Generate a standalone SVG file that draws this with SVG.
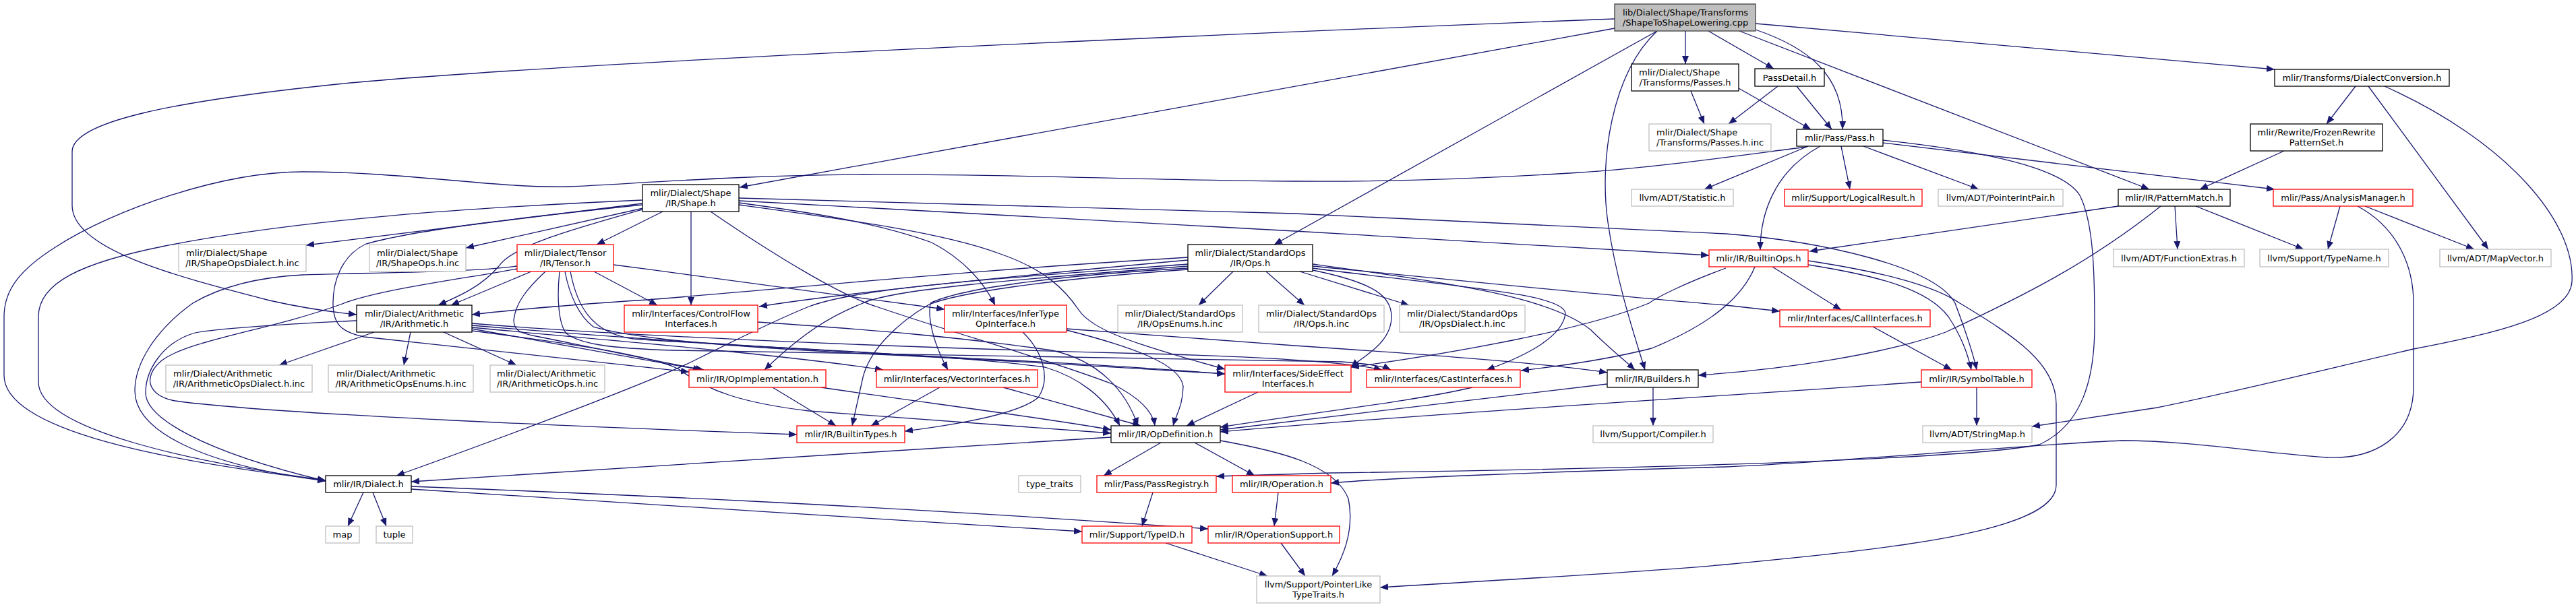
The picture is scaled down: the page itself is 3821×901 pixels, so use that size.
<svg xmlns="http://www.w3.org/2000/svg" width="3821" height="901" viewBox="0 0 3821 901">
<defs>
<style>
.e{fill:none;stroke:#191970;stroke-width:1.3;marker-end:url(#a)}
rect{fill:#ffffff;stroke-width:1.3}
.k rect{stroke:#000000}
.g rect{stroke:#bfbfbf}
.r rect{stroke:#ff0000}
text{font-family:"DejaVu Sans","Liberation Sans",sans-serif;font-size:13px;fill:#000000}
.m{text-anchor:middle}
</style>
<marker id="a" markerWidth="12" markerHeight="10" refX="12" refY="5" orient="auto" markerUnits="userSpaceOnUse"><path d="M0,0 L12,5 L0,10 z" fill="#191970"/></marker>
</defs>
<rect x="0" y="0" width="3821" height="901" style="fill:#ffffff;stroke:none"/>
<g id="edges">
<path class="e" d="M2500,46 L2500,95"/>
<path class="e" d="M2534,46 L2631,102"/>
<path class="e" d="M2604,44 C2680,70 2735,110 2733,192"/>
<path class="e" d="M2580,46 L3188,281"/>
<path class="e" d="M2604,35 L3374,103"/>
<path class="e" d="M2395,42 L1097,278"/>
<path class="e" d="M2395,28 C1700,55 800,95 500,125 C260,150 107,180 107,225 L107,305 C107,370 260,410 400,446 C440,455 480,462 529,467"/>
<path class="e" d="M2458,46 L1890,363"/>
<path class="e" d="M2458,46 C2390,110 2372,240 2385,330 C2398,420 2425,500 2440,549"/>
<path class="e" d="M2508,135 L2528,184"/>
<path class="e" d="M2579,131 L2686,192"/>
<path class="e" d="M2637,128 L2564,184"/>
<path class="e" d="M2665,128 L2717,192"/>
<path class="e" d="M2682,217 L2528,281"/>
<path class="e" d="M2731,217 L2744,281"/>
<path class="e" d="M2764,217 L2935,281"/>
<path class="e" d="M2700,217 C2630,255 2611,320 2611,371"/>
<path class="e" d="M2793,212 L3374,281"/>
<path class="e" d="M2680,218 C2600,228 2450,250 2328,257 C2200,265 2050,270 1920,269 C1700,268 1500,258 1280,259 C1100,260 950,272 844,277 C740,280 600,255 449,255 C330,255 170,310 82,367 C30,400 6,430 6,470 L6,557 C6,640 250,685 483,713"/>
<path class="e" d="M2793,208 C2950,225 3060,250 3085,290 C3105,330 3107,400 3107,483 C3107,560 3090,630 3025,660 C2900,685 2300,698 1974,702 L1804,707"/>
<path class="e" d="M3471,306 L3453,370"/>
<path class="e" d="M3508,306 L3670,370"/>
<path class="e" d="M3497,306 C3560,340 3580,400 3580,450 L3580,574 C3580,650 3520,682 3453,679 C3350,672 3250,654 3147,654 C3000,660 2700,688 2560,693 C2300,700 2050,710 1974,717"/>
<path class="e" d="M3142,306 L2684,373"/>
<path class="e" d="M3226,306 L3230,370"/>
<path class="e" d="M3257,306 L3417,370"/>
<path class="e" d="M3205,306 C3100,390 3000,440 2886,493 C2800,525 2650,548 2519,557"/>
<path class="e" d="M3388,224 L3263,281"/>
<path class="e" d="M3494,128 L3451,184"/>
<path class="e" d="M3513,128 L3691,370"/>
<path class="e" d="M3537,128 C3720,210 3820,330 3815,418 C3812,470 3700,495 3580,518 C3430,553 3300,585 3200,605 L3014,633"/>
<path class="e" d="M2682,393 C2790,410 2860,430 2890,470 C2910,500 2920,530 2924,549"/>
<path class="e" d="M2682,387 C2800,405 2870,425 2907,450 C2990,500 3050,540 3050,600 L3050,720 C3050,790 2800,815 2560,838 C2400,852 2200,862 2047,872"/>
<path class="e" d="M2629,396 L2731,460"/>
<path class="e" d="M2603,396 C2585,440 2540,480 2450,517 C2380,535 2300,545 2256,550"/>
<path class="e" d="M2560,398 C2500,420 2460,440 2446,450 C2350,490 2150,525 2004,545"/>
<path class="e" d="M953,297 C700,308 450,325 245,365 C120,390 57,420 57,470 L57,567 C57,640 300,688 483,713"/>
<path class="e" d="M953,302 L454,364"/>
<path class="e" d="M954,309 L691,368"/>
<path class="e" d="M983,314 L885,363"/>
<path class="e" d="M1025,314 L1025,453"/>
<path class="e" d="M1054,314 C1150,380 1250,440 1300,455 C1400,490 1560,535 1650,570 C1690,590 1710,610 1713,632"/>
<path class="e" d="M953,304 C800,320 620,340 543,362 C505,380 494,420 494,450 C494,480 505,493 540,500 L1022,552"/>
<path class="e" d="M953,311 C850,340 760,365 740,395 C715,425 680,440 650,453"/>
<path class="e" d="M1096,294 L1920,317 C2200,330 2450,340 2560,347 C2700,358 2870,395 2900,450 C2915,490 2928,530 2932,549"/>
<path class="e" d="M1096,298 L1920,343 L2535,379"/>
<path class="e" d="M1096,301 C1200,315 1300,330 1382,360 C1430,385 1460,420 1476,453"/>
<path class="e" d="M1096,304 C1250,325 1400,345 1484,377 C1550,400 1580,430 1600,460 C1620,490 1680,510 1817,548"/>
<path class="e" d="M881,403 L975,453"/>
<path class="e" d="M788,403 L669,453"/>
<path class="e" d="M767,395 C700,405 520,405 449,408 C370,412 320,430 286,450 C230,490 200,540 200,580 C200,640 300,690 483,714"/>
<path class="e" d="M767,399 C680,415 560,430 505,452 C400,490 280,505 240,535 C210,560 220,588 260,595 C400,615 900,635 1182,645"/>
<path class="e" d="M809,403 C780,430 765,450 762,475 C762,490 770,495 800,500 C900,520 990,540 1044,549"/>
<path class="e" d="M910,393 C1100,418 1300,445 1401,459"/>
<path class="e" d="M830,403 C826,440 828,480 840,495 C860,510 900,517 1000,520 C1400,528 1800,533 1990,537 C2030,540 2055,545 2063,549"/>
<path class="e" d="M838,403 C845,440 860,470 880,485 C950,505 1100,515 1280,525 C1500,535 1700,548 1817,555"/>
<path class="e" d="M846,403 C855,450 875,495 940,503 C1100,515 1400,525 1550,545 C1600,560 1640,590 1661,632"/>
<path class="e" d="M1829,403 L1778,453"/>
<path class="e" d="M1878,403 L1935,453"/>
<path class="e" d="M1928,403 L2090,453"/>
<path class="e" d="M1947,392 C2150,420 2300,440 2360,490 C2385,515 2410,535 2425,549"/>
<path class="e" d="M1947,395 C2200,420 2450,445 2560,453 L2640,462"/>
<path class="e" d="M1947,398 C2150,425 2320,435 2322,465 C2318,505 2245,535 2205,549"/>
<path class="e" d="M1947,401 C2040,420 2064,440 2064,470 C2064,510 2020,530 2004,545"/>
<path class="e" d="M1762,382 C1450,400 1150,430 960,445 C850,452 760,460 700,467"/>
<path class="e" d="M1762,386 C1500,410 1250,435 1126,455"/>
<path class="e" d="M1762,392 C1500,412 1280,425 1200,455 C1150,475 1080,510 1030,535 C980,560 800,630 588,706"/>
<path class="e" d="M1762,395 C1500,415 1320,430 1280,450 C1230,470 1190,495 1134,549"/>
<path class="e" d="M1762,398 C1550,410 1420,430 1380,450 C1375,480 1390,520 1406,549"/>
<path class="e" d="M1762,400 C1550,415 1420,435 1378,452 C1330,480 1290,520 1280,560 L1264,632"/>
<path class="e" d="M555,493 L414,542"/>
<path class="e" d="M609,493 L599,542"/>
<path class="e" d="M658,493 L766,542"/>
<path class="e" d="M529,476 C400,482 300,490 286,495 C240,510 216,550 216,583 C216,620 300,670 483,714"/>
<path class="e" d="M700,488 L1040,549"/>
<path class="e" d="M700,486 C900,505 1150,525 1310,549"/>
<path class="e" d="M700,483 C900,500 1200,520 1500,535 C1650,542 1750,550 1817,555"/>
<path class="e" d="M700,480 C900,497 1300,515 1700,525 C1900,530 2000,538 2050,549"/>
<path class="e" d="M700,491 C850,510 980,530 1010,550 C1050,580 1100,598 1200,610 C1400,625 1550,635 1648,643"/>
<path class="e" d="M1124,478 C1300,490 1420,500 1560,520 C1630,535 1670,580 1688,632"/>
<path class="e" d="M1517,493 C1545,520 1560,560 1540,590 C1510,615 1420,630 1342,640"/>
<path class="e" d="M1582,490 C1680,515 1750,540 1755,573 C1755,600 1745,615 1740,632"/>
<path class="e" d="M1582,488 L1920,513 C2100,525 2300,540 2384,553"/>
<path class="e" d="M1146,575 L1240,632"/>
<path class="e" d="M1218,575 C1350,595 1550,620 1648,638"/>
<path class="e" d="M1394,575 L1292,632"/>
<path class="e" d="M1488,575 L1692,632"/>
<path class="e" d="M1866,582 L1760,632"/>
<path class="e" d="M2184,575 C2100,595 1950,612 1810,634"/>
<path class="e" d="M2452,575 L2452,632"/>
<path class="e" d="M2384,570 L1810,638"/>
<path class="e" d="M2932,575 L2932,632"/>
<path class="e" d="M2850,567 C2600,585 2100,615 1810,641"/>
<path class="e" d="M2778,485 L2895,549"/>
<path class="e" d="M1648,649 L1280,672 L610,715"/>
<path class="e" d="M1722,657 L1637,706"/>
<path class="e" d="M1772,657 L1861,706"/>
<path class="e" d="M1810,654 C1900,670 1980,690 2000,740 C2010,790 1990,830 1976,855"/>
<path class="e" d="M1710,731 L1694,781"/>
<path class="e" d="M1896,731 L1890,781"/>
<path class="e" d="M1900,806 L1936,855"/>
<path class="e" d="M1729,806 L1880,855"/>
<path class="e" d="M539,731 L516,781"/>
<path class="e" d="M553,731 L573,781"/>
<path class="e" d="M610,722 C900,733 1300,750 1792,785"/>
<path class="e" d="M610,726 C900,745 1300,770 1605,789"/>
</g>
<g id="nodes">
<g id="n_root"><rect x="2395" y="6" width="209" height="40" style="fill:#bfbfbf;stroke:#404040"/><text class="m" x="2500" y="23">lib/Dialect/Shape/Transforms</text><text class="m" x="2500" y="38">/ShapeToShapeLowering.cpp</text></g>
<g id="n_passes_h" class="k"><rect x="2420" y="95" width="159" height="40"/><text x="2431" y="112">mlir/Dialect/Shape</text><text class="m" x="2499.5" y="127">/Transforms/Passes.h</text></g>
<g id="n_passes_inc" class="g"><rect x="2446" y="184" width="181" height="40"/><text x="2457" y="201">mlir/Dialect/Shape</text><text class="m" x="2536.5" y="216">/Transforms/Passes.h.inc</text></g>
<g id="n_passdetail" class="k"><rect x="2603" y="102" width="103" height="26"/><text class="m" x="2654.5" y="119.5">PassDetail.h</text></g>
<g id="n_pass" class="k"><rect x="2665" y="192" width="128" height="25"/><text class="m" x="2729" y="209">mlir/Pass/Pass.h</text></g>
<g id="n_statistic" class="g"><rect x="2420" y="281" width="151" height="25"/><text class="m" x="2495.5" y="298">llvm/ADT/Statistic.h</text></g>
<g id="n_logicalresult" class="r"><rect x="2647" y="281" width="204" height="25"/><text class="m" x="2749" y="298">mlir/Support/LogicalResult.h</text></g>
<g id="n_pointerintpair" class="g"><rect x="2875" y="281" width="185" height="25"/><text class="m" x="2967.5" y="298">llvm/ADT/PointerIntPair.h</text></g>
<g id="n_patternmatch" class="k"><rect x="3142" y="281" width="166" height="25"/><text class="m" x="3225" y="298">mlir/IR/PatternMatch.h</text></g>
<g id="n_analysismanager" class="r"><rect x="3372" y="281" width="207" height="25"/><text class="m" x="3475.5" y="298">mlir/Pass/AnalysisManager.h</text></g>
<g id="n_dialectconversion" class="k"><rect x="3374" y="103" width="259" height="25"/><text class="m" x="3503.5" y="120">mlir/Transforms/DialectConversion.h</text></g>
<g id="n_frozen" class="k"><rect x="3338" y="184" width="196" height="40"/><text class="m" x="3436" y="201">mlir/Rewrite/FrozenRewrite</text><text class="m" x="3436" y="216">PatternSet.h</text></g>
<g id="n_functionextras" class="g"><rect x="3135" y="370" width="194" height="26"/><text class="m" x="3232" y="387.5">llvm/ADT/FunctionExtras.h</text></g>
<g id="n_typename" class="g"><rect x="3352" y="370" width="191" height="26"/><text class="m" x="3447.5" y="387.5">llvm/Support/TypeName.h</text></g>
<g id="n_mapvector" class="g"><rect x="3619" y="370" width="165" height="26"/><text class="m" x="3701.5" y="387.5">llvm/ADT/MapVector.h</text></g>
<g id="n_builtinops" class="r"><rect x="2535" y="371" width="147" height="25"/><text class="m" x="2608.5" y="388">mlir/IR/BuiltinOps.h</text></g>
<g id="n_shape" class="k"><rect x="953" y="274" width="143" height="40"/><text class="m" x="1024.5" y="291">mlir/Dialect/Shape</text><text class="m" x="1024.5" y="306">/IR/Shape.h</text></g>
<g id="n_shapeopsdialect_inc" class="g"><rect x="265" y="363" width="189" height="40"/><text x="276" y="380">mlir/Dialect/Shape</text><text class="m" x="359.5" y="395">/IR/ShapeOpsDialect.h.inc</text></g>
<g id="n_shapeops_inc" class="g"><rect x="548" y="363" width="143" height="40"/><text x="559" y="380">mlir/Dialect/Shape</text><text class="m" x="619.5" y="395">/IR/ShapeOps.h.inc</text></g>
<g id="n_tensor" class="r"><rect x="767" y="363" width="143" height="40"/><text class="m" x="838.5" y="380">mlir/Dialect/Tensor</text><text class="m" x="838.5" y="395">/IR/Tensor.h</text></g>
<g id="n_ops" class="k"><rect x="1762" y="363" width="185" height="40"/><text class="m" x="1854.5" y="380">mlir/Dialect/StandardOps</text><text class="m" x="1854.5" y="395">/IR/Ops.h</text></g>
<g id="n_arith" class="k"><rect x="529" y="453" width="171" height="40"/><text class="m" x="614.5" y="470">mlir/Dialect/Arithmetic</text><text class="m" x="614.5" y="485">/IR/Arithmetic.h</text></g>
<g id="n_controlflow" class="r"><rect x="926" y="453" width="198" height="40"/><text class="m" x="1025" y="470">mlir/Interfaces/ControlFlow</text><text class="m" x="1025" y="485">Interfaces.h</text></g>
<g id="n_infertype" class="r"><rect x="1401" y="453" width="181" height="40"/><text class="m" x="1491.5" y="470">mlir/Interfaces/InferType</text><text class="m" x="1491.5" y="485">OpInterface.h</text></g>
<g id="n_opsenums_inc" class="g"><rect x="1658" y="453" width="185" height="40"/><text class="m" x="1750.5" y="470">mlir/Dialect/StandardOps</text><text class="m" x="1750.5" y="485">/IR/OpsEnums.h.inc</text></g>
<g id="n_ops_inc" class="g"><rect x="1867" y="453" width="186" height="40"/><text class="m" x="1960" y="470">mlir/Dialect/StandardOps</text><text class="m" x="1960" y="485">/IR/Ops.h.inc</text></g>
<g id="n_opsdialect_inc" class="g"><rect x="2076" y="453" width="186" height="40"/><text class="m" x="2169" y="470">mlir/Dialect/StandardOps</text><text class="m" x="2169" y="485">/IR/OpsDialect.h.inc</text></g>
<g id="n_callif" class="r"><rect x="2640" y="460" width="223" height="25"/><text class="m" x="2751.5" y="477">mlir/Interfaces/CallInterfaces.h</text></g>
<g id="n_arithdialect_inc" class="g"><rect x="246" y="542" width="217" height="40"/><text x="257" y="559">mlir/Dialect/Arithmetic</text><text class="m" x="354.5" y="574">/IR/ArithmeticOpsDialect.h.inc</text></g>
<g id="n_arithenums_inc" class="g"><rect x="487" y="542" width="215" height="40"/><text x="499" y="559">mlir/Dialect/Arithmetic</text><text class="m" x="594.5" y="574">/IR/ArithmeticOpsEnums.h.inc</text></g>
<g id="n_arithops_inc" class="g"><rect x="727" y="542" width="170" height="40"/><text x="737" y="559">mlir/Dialect/Arithmetic</text><text class="m" x="812" y="574">/IR/ArithmeticOps.h.inc</text></g>
<g id="n_opimpl" class="r"><rect x="1022" y="549" width="203" height="26"/><text class="m" x="1123.5" y="566.5">mlir/IR/OpImplementation.h</text></g>
<g id="n_vectorif" class="r"><rect x="1300" y="549" width="239" height="26"/><text class="m" x="1419.5" y="566.5">mlir/Interfaces/VectorInterfaces.h</text></g>
<g id="n_sideeffect" class="r"><rect x="1817" y="542" width="187" height="40"/><text class="m" x="1910.5" y="559">mlir/Interfaces/SideEffect</text><text class="m" x="1910.5" y="574">Interfaces.h</text></g>
<g id="n_castif" class="r"><rect x="2027" y="549" width="228" height="26"/><text class="m" x="2141" y="566.5">mlir/Interfaces/CastInterfaces.h</text></g>
<g id="n_builders" class="k"><rect x="2384" y="549" width="135" height="26"/><text class="m" x="2451.5" y="566.5">mlir/IR/Builders.h</text></g>
<g id="n_symboltable" class="r"><rect x="2850" y="549" width="164" height="26"/><text class="m" x="2932" y="566.5">mlir/IR/SymbolTable.h</text></g>
<g id="n_builtintypes" class="r"><rect x="1182" y="632" width="160" height="25"/><text class="m" x="1262" y="649">mlir/IR/BuiltinTypes.h</text></g>
<g id="n_opdef" class="k"><rect x="1648" y="632" width="162" height="25"/><text class="m" x="1729" y="649">mlir/IR/OpDefinition.h</text></g>
<g id="n_compiler" class="g"><rect x="2363" y="632" width="178" height="25"/><text class="m" x="2452" y="649">llvm/Support/Compiler.h</text></g>
<g id="n_stringmap" class="g"><rect x="2852" y="632" width="162" height="25"/><text class="m" x="2933" y="649">llvm/ADT/StringMap.h</text></g>
<g id="n_dialect" class="k"><rect x="483" y="706" width="127" height="25"/><text class="m" x="546.5" y="723">mlir/IR/Dialect.h</text></g>
<g id="n_typetraits" class="g"><rect x="1511" y="706" width="92" height="25"/><text class="m" x="1557" y="723">type_traits</text></g>
<g id="n_passregistry" class="r"><rect x="1627" y="706" width="177" height="25"/><text class="m" x="1715.5" y="723">mlir/Pass/PassRegistry.h</text></g>
<g id="n_operation" class="r"><rect x="1828" y="706" width="146" height="25"/><text class="m" x="1901" y="723">mlir/IR/Operation.h</text></g>
<g id="n_map" class="g"><rect x="483" y="781" width="50" height="25"/><text class="m" x="508" y="798">map</text></g>
<g id="n_tuple" class="g"><rect x="558" y="781" width="54" height="25"/><text class="m" x="585" y="798">tuple</text></g>
<g id="n_typeid" class="r"><rect x="1605" y="781" width="163" height="25"/><text class="m" x="1686.5" y="798">mlir/Support/TypeID.h</text></g>
<g id="n_opsupport" class="r"><rect x="1792" y="781" width="195" height="25"/><text class="m" x="1889.5" y="798">mlir/IR/OperationSupport.h</text></g>
<g id="n_pointerlike" class="g"><rect x="1864" y="855" width="183" height="40"/><text class="m" x="1955.5" y="872">llvm/Support/PointerLike</text><text class="m" x="1955.5" y="887">TypeTraits.h</text></g>
</g>
</svg>
